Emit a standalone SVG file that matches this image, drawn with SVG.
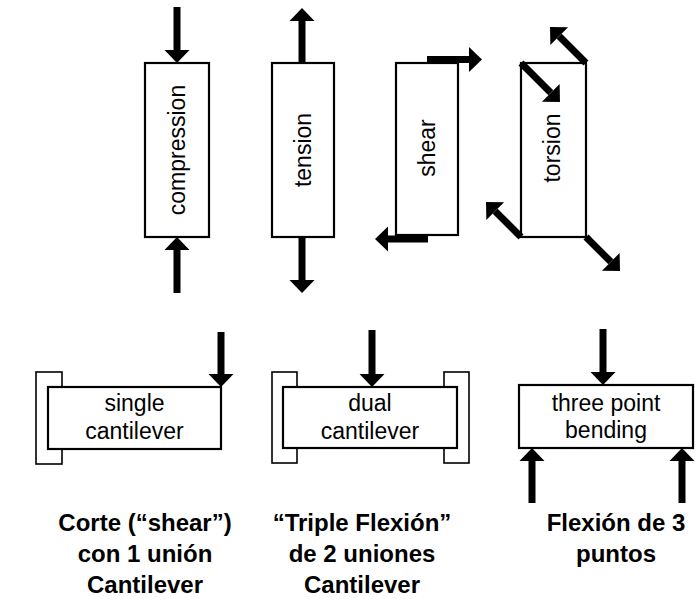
<svg xmlns="http://www.w3.org/2000/svg" width="700" height="599" viewBox="0 0 700 599">
<style>
.box{fill:#fff;stroke:#000;stroke-width:2.2}
.clamp{fill:#fff;stroke:#000;stroke-width:1.6}
.arr{stroke:#000;stroke-width:7;fill:none;marker-end:url(#ah)}
.t{font-family:"Liberation Sans",Arial,sans-serif;font-size:23px;fill:#000;text-anchor:middle}
.lbl{font-family:"Liberation Sans",Arial,sans-serif;font-size:24px;font-weight:bold;fill:#000;text-anchor:middle}
</style>
<defs>
<marker id="ah" markerUnits="userSpaceOnUse" markerWidth="14" markerHeight="26" refX="0" refY="13" orient="auto" overflow="visible">
<path d="M0,0.5 L13,13 L0,25.5 Z" fill="#000"/>
</marker>
</defs>
<rect width="700" height="599" fill="#fff"/>
<g id="compression">
<rect class="box" x="145" y="63" width="64" height="174"/>
<text class="t" transform="translate(177,150) rotate(-90)" dominant-baseline="central">compression</text>
</g>
<g id="tension">
<rect class="box" x="272" y="63" width="62" height="174"/>
<text class="t" transform="translate(303,150) rotate(-90)" dominant-baseline="central">tension</text>
</g>
<g id="shear">
<rect class="box" x="396" y="63" width="62" height="172"/>
<text class="t" transform="translate(427,148) rotate(-90)" dominant-baseline="central">shear</text>
</g>
<g id="torsion">
<rect class="box" x="521" y="63" width="65" height="174"/>
<text class="t" transform="translate(552,148) rotate(-90)" dominant-baseline="central">torsion</text>
</g>
<g id="single-cantilever">
<rect class="clamp" x="36" y="372" width="26" height="92"/>
<rect class="box" x="48" y="387" width="173" height="62"/>
<text class="t" x="134.5" y="411">single</text>
<text class="t" x="134.5" y="439">cantilever</text>
</g>
<g id="dual-cantilever">
<rect class="clamp" x="272" y="372" width="25" height="91"/>
<rect class="clamp" x="444" y="372" width="25" height="91"/>
<rect class="box" x="283" y="387" width="174" height="61"/>
<text class="t" x="370" y="411">dual</text>
<text class="t" x="370" y="439">cantilever</text>
</g>
<g id="three-point-bending">
<rect class="box" x="519" y="385" width="174" height="63"/>
<text class="t" x="606" y="411">three point</text>
<text class="t" x="606" y="438">bending</text>
</g>
<g id="connectors">
<line class="arr" x1="177" y1="7" x2="177" y2="50"/>
<line class="arr" x1="177" y1="293" x2="177" y2="250"/>
<line class="arr" x1="302" y1="63" x2="302" y2="21"/>
<line class="arr" x1="302" y1="237" x2="302" y2="280"/>
<line class="arr" x1="427" y1="59.5" x2="469" y2="59.5"/>
<line class="arr" x1="428" y1="239" x2="388" y2="239"/>
<line class="arr" x1="586" y1="63" x2="559.2" y2="36.2"/>
<line class="arr" x1="521" y1="63" x2="550.8" y2="92.8"/>
<line class="arr" x1="521" y1="237" x2="495.2" y2="211.2"/>
<line class="arr" x1="586" y1="237" x2="610.8" y2="261.8"/>
<line class="arr" x1="221" y1="332" x2="221" y2="374"/>
<line class="arr" x1="372" y1="330" x2="372" y2="374"/>
<line class="arr" x1="603" y1="329" x2="603" y2="372"/>
<line class="arr" x1="532" y1="503" x2="532" y2="461"/>
<line class="arr" x1="682" y1="503" x2="682" y2="461"/>
</g>
<g id="labels">
<text class="lbl"><tspan x="145" y="531">Corte (“shear”)</tspan><tspan x="145" y="562">con 1 unión</tspan><tspan x="145" y="593">Cantilever</tspan></text>
<text class="lbl"><tspan x="362" y="531">“Triple Flexión”</tspan><tspan x="362" y="562">de 2 uniones</tspan><tspan x="362" y="593">Cantilever</tspan></text>
<text class="lbl"><tspan x="616" y="531">Flexión de 3</tspan><tspan x="616" y="562">puntos</tspan></text>
</g>
</svg>
